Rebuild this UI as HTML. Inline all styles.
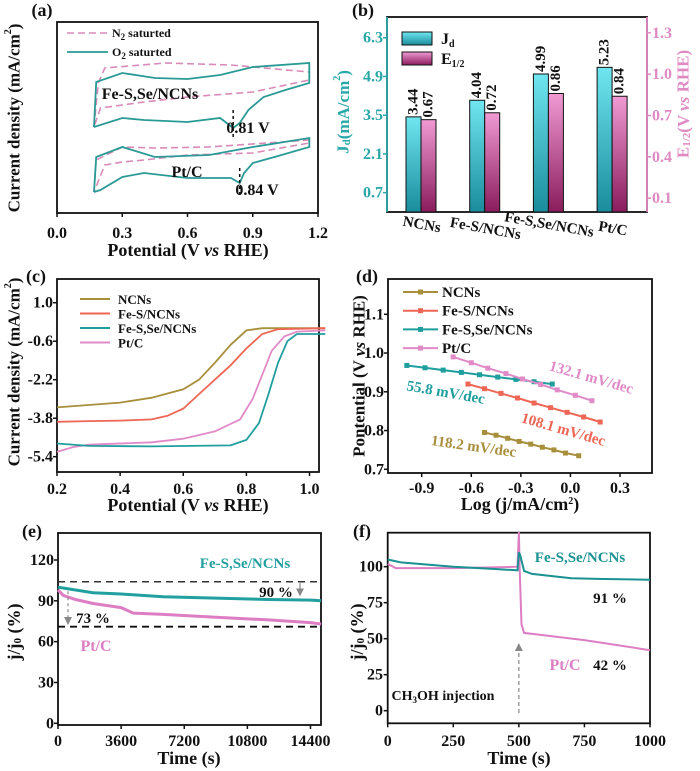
<!DOCTYPE html>
<html><head><meta charset="utf-8">
<style>
html,body{margin:0;padding:0;background:#fff;}
svg{display:block;font-family:"Liberation Serif",serif;font-weight:bold;}
</style></head>
<body>
<svg id="fig" width="700" height="771" viewBox="0 0 700 771" xmlns="http://www.w3.org/2000/svg">
<defs>
<linearGradient id="gCyan" x1="0" y1="0" x2="0" y2="1"><stop offset="0" stop-color="#6fe6f0"/><stop offset="1" stop-color="#1a8c9c"/></linearGradient>
<linearGradient id="gPink" x1="0" y1="0" x2="0" y2="1"><stop offset="0" stop-color="#f09ad4"/><stop offset="1" stop-color="#8a1c5c"/></linearGradient>
<marker id="arrG" markerWidth="8" markerHeight="8" refX="7" refY="4" orient="auto" markerUnits="userSpaceOnUse"><path d="M0,0 L8,4 L0,8 Z" fill="#888"/></marker>
</defs>
</svg>
<script>
// ---------- Panel (a) CV data ----------
const aFeO2X=[0.17,0.18,0.3,0.45,0.6,0.75,0.9,1.16,1.16,1.05,0.95,0.88,0.84,0.81,0.75,0.6,0.4,0.3,0.17];
const aFeO2Y=[86,131,140,135,134,138,146,150,130,123,116,103,90,85,95,91,93,95,86];
const aFeN2X=[0.17,0.19,0.22,0.5,0.8,1.16,1.16,0.9,0.6,0.4,0.2,0.17];
const aFeN2Y=[86,130,145,150,148,141,133,121,116,111,105,86];
const aPtO2X=[0.17,0.18,0.3,0.45,0.7,0.9,1.16,1.16,1.0,0.9,0.86,0.84,0.8,0.6,0.4,0.3,0.2,0.17];
const aPtO2Y=[21,56,66,56,58,66,75,66,56,50,40,30,35,35,40,36,23,21];
const aPtN2X=[0.17,0.18,0.3,0.45,0.7,1.16,1.16,0.9,0.6,0.4,0.3,0.22,0.17];
const aPtN2Y=[21,53,66,65,66,73,70,60,58,53,51,48,21];
const aXTicks=[0.0,0.3,0.6,0.9,1.2];
const aXTickLabels=["0.0","0.3","0.6","0.9","1.2"];
// ---------- Panel (b) bars ----------
const bCats=["NCNs","Fe-S/NCNs","Fe-S,Se/NCNs","Pt/C"];
const bJd=[3.44,4.04,4.99,5.23];
const bE12=[0.67,0.72,0.86,0.84];
const bLeftTicks=[0.7,2.1,3.5,4.9,6.3];
const bRightTicks=[0.1,0.4,0.7,1.0,1.3];
// ---------- Panel (c) LSV ----------
const cNcnsX=[0.2,0.3,0.4,0.5,0.6,0.65,0.7,0.75,0.8,0.85,1.05];
const cNcnsY=[-3.35,-3.25,-3.15,-2.95,-2.6,-2.2,-1.5,-0.75,-0.15,-0.06,-0.06];
const cFeSX=[0.2,0.3,0.4,0.5,0.55,0.6,0.65,0.7,0.75,0.8,0.85,0.9,1.05];
const cFeSY=[-3.95,-3.92,-3.9,-3.85,-3.7,-3.4,-2.8,-2.2,-1.6,-0.9,-0.3,-0.1,-0.06];
const cFeSSeX=[0.2,0.3,0.5,0.75,0.8,0.84,0.87,0.9,0.93,0.96,1.05];
const cFeSSeY=[-4.85,-4.95,-4.97,-4.93,-4.7,-4.0,-2.8,-1.5,-0.6,-0.3,-0.3];
const cPtX=[0.2,0.25,0.3,0.5,0.6,0.7,0.78,0.82,0.85,0.88,0.92,0.96,1.05];
const cPtY=[-5.2,-5.0,-4.9,-4.8,-4.65,-4.35,-3.85,-3.0,-2.0,-1.0,-0.4,-0.2,-0.15];
const cXTicks=[0.2,0.4,0.6,0.8,1.0];
const cYTicks=[1.0,-0.6,-2.2,-3.8,-5.4];
// ---------- Panel (d) Tafel ----------
const dNcnsX=[-0.52,-0.45,-0.38,-0.31,-0.24,-0.17,-0.1,-0.03,0.05];
const dNcnsY=[0.795,0.788,0.780,0.772,0.765,0.757,0.750,0.742,0.735];
const dFeSX=[-0.62,-0.52,-0.42,-0.32,-0.22,-0.12,-0.02,0.08,0.18];
const dFeSY=[0.920,0.908,0.896,0.884,0.871,0.859,0.847,0.835,0.822];
const dFeSSeX=[-0.99,-0.88,-0.77,-0.66,-0.55,-0.44,-0.33,-0.22,-0.11];
const dFeSSeY=[0.968,0.962,0.956,0.950,0.944,0.938,0.932,0.926,0.920];
const dPtX=[-0.71,-0.60,-0.50,-0.39,-0.29,-0.18,-0.08,0.03,0.13];
const dPtY=[0.990,0.975,0.961,0.947,0.933,0.919,0.905,0.891,0.877];
const dXTicks=[-0.9,-0.6,-0.3,0.0,0.3];
const dYTicks=[0.7,0.8,0.9,1.0,1.1];
// ---------- Panel (e) stability ----------
const eFeX=[0,500,2000,3600,6000,9000,12000,14400,15000];
const eFeY=[100,99,96,95,93,92,91,90.5,90];
const ePtX=[0,300,1000,2000,3600,4300,6000,9000,12000,14400,15000];
const ePtY=[98,94,91,88,85,81,80,78,76,74,73];
const eXTicks=[0,3600,7200,10800,14400];
const eYTicks=[0,30,60,90,120];
// ---------- Panel (f) methanol ----------
const fFeX=[0,50,250,400,495,500,505,520,550,700,800,1000];
const fFeY=[105,103,100,98.5,97.5,110,108,97,95,92,91.5,91];
const fPtX=[0,30,250,400,495,500,503,510,520,750,1000];
const fPtY=[102,99,99,99.5,100,124,100,60,54,49,42];
const fXTicks=[0,250,500,750,1000];
const fYTicks=[0,25,50,75,100];

const NS="http://www.w3.org/2000/svg";
const svg=document.getElementById('fig');
function lin(d0,d1,r0,r1){return v=>r0+(v-d0)*(r1-r0)/(d1-d0);}
function mk(tag,attrs,parent){const e=document.createElementNS(NS,tag);for(const k in attrs)e.setAttribute(k,attrs[k]);(parent||svg).appendChild(e);return e;}
function txt(s,x,y,size,fill,anchor,parent){const e=mk('text',{x:x,y:y,'font-size':size,fill:fill||'#111','text-anchor':anchor||'middle'},parent);e.textContent=s;return e;}
function pathFrom(xs,ys,sx,sy){return xs.map((v,i)=>(i?'L':'M')+sx(v).toFixed(1)+','+sy(ys[i]).toFixed(1)).join(' ');}
function box(x0,y0,x1,y1,name){const r=mk('rect',{x:x0,y:y0,width:x1-x0,height:y1-y0,fill:'none',stroke:'#111','stroke-width':1.8});


return r;}
function xTicks(vals,labels,sx,yb,ly,name){vals.forEach((v,i)=>{mk('line',{x1:sx(v),x2:sx(v),y1:yb,y2:yb+4,stroke:'#111','stroke-width':1.5});
const t=txt(labels[i],sx(v),ly,16);

});}
function yTicks(vals,labels,sy,xl,lx,name,col,anchor,dir){vals.forEach((v,i)=>{mk('line',{x1:xl,x2:xl+(dir||-4),y1:sy(v),y2:sy(v),stroke:col||'#111','stroke-width':1.5});
const t=txt(labels[i],lx,sy(v)+5,16,col||'#111',anchor||'end');

});}
function rotTitle(s,x,y,size,col,name){const t=mk('text',{x:x,y:y,'font-size':size,fill:col||'#111','text-anchor':'middle','dominant-baseline':'central',transform:`rotate(-90 ${x} ${y})`});t.innerHTML=s;

return t;}
function label(s,x,y,size,col,name,anchor,rot){const t=mk('text',{x:x,y:y,'font-size':size,fill:col||'#111','text-anchor':anchor||'middle'});if(rot)t.setAttribute('transform',`rotate(${rot} ${x} ${y})`);t.innerHTML=s;

return t;}

// ===== Panel a =====
{const sx=lin(0,1.2,57,318), sy=lin(0,191,213,22);
box(57,22,318,213,'panel-a-plot-area');
xTicks(aXTicks,aXTickLabels,sx,213,238,'panel-a-x-tick');
let p=mk('path',{d:pathFrom(aFeN2X,aFeN2Y,sx,sy),fill:'none',stroke:'#d98ab8','stroke-width':1.6,'stroke-dasharray':'7,4'});


p=mk('path',{d:pathFrom(aPtN2X,aPtN2Y,sx,sy),fill:'none',stroke:'#d98ab8','stroke-width':1.6,'stroke-dasharray':'7,4'});


p=mk('path',{d:pathFrom(aFeO2X,aFeO2Y,sx,sy),fill:'none',stroke:'#2a9a96','stroke-width':1.8});


p=mk('path',{d:pathFrom(aPtO2X,aPtO2Y,sx,sy),fill:'none',stroke:'#2a9a96','stroke-width':1.8});


mk('line',{x1:sx(0.81),x2:sx(0.81),y1:110,y2:138,stroke:'#111','stroke-width':1.5,'stroke-dasharray':'3,3'});
mk('line',{x1:sx(0.84),x2:sx(0.84),y1:168,y2:197,stroke:'#111','stroke-width':1.5,'stroke-dasharray':'3,3'});
label('0.81 V',248,133,16,'#111','peak-label-081');
label('0.84 V',257,195,16,'#111','peak-label-084');
label('Fe-S,Se/NCNs',150,99,16,'#111','fe-s-se-label');
label('Pt/C',187,177,16,'#111','pt-c-label');
mk('line',{x1:67,x2:108,y1:33,y2:33,stroke:'#d98ab8','stroke-width':1.6,'stroke-dasharray':'7,4'});
label('N<tspan font-size="9" dy="3">2</tspan><tspan dy="-3"> saturted</tspan>',112,37,12,'#111','legend-n2','start');
mk('line',{x1:67,x2:108,y1:52,y2:52,stroke:'#2a9a96','stroke-width':1.8});
label('O<tspan font-size="9" dy="3">2</tspan><tspan dy="-3"> saturted</tspan>',112,56,12,'#111','legend-o2','start');
label('(a)',42,16,18,'#111','panel-a-label');
label('Potential (V <tspan font-style="italic">vs</tspan> RHE)',188,256,18,'#111','panel-a-x-title');
rotTitle('Current density (mA/cm<tspan font-size="10" dy="-6">2</tspan><tspan dy="6">)</tspan>',14,118,17,'#111','panel-a-y-title');
}
// ===== Panel b =====
{const syL=lin(0,7.05,212,17), syR=lin(0,1.415,212,17);
const centers=bCats.map((c,i)=>421+i*63.7);
mk('rect',{x:387,y:17,width:260,height:195,fill:'none',stroke:'#111','stroke-width':1.8});
mk('line',{x1:387,x2:387,y1:17,y2:212,stroke:'#2aa7a8','stroke-width':1.8});
mk('line',{x1:647,x2:647,y1:17,y2:212,stroke:'#e08ac4','stroke-width':1.8});
yTicks(bLeftTicks,bLeftTicks.map(v=>v.toFixed(1)),syL,387,383,'left-y-tick','#2aa7a8','end',-4);
yTicks(bRightTicks,bRightTicks.map(v=>v.toFixed(1)),syR,647,652,'right-y-tick','#e08ac4','start',4);
bCats.forEach((c,i)=>{
 const cx=centers[i];
 const r1=mk('rect',{x:cx-15,y:syL(bJd[i]),width:15,height:212-syL(bJd[i]),fill:'url(#gCyan)',stroke:'#111','stroke-width':1});
 
 
 const r2=mk('rect',{x:cx,y:syR(bE12[i]),width:15,height:212-syR(bE12[i]),fill:'url(#gPink)',stroke:'#111','stroke-width':1});
 
 
 const x1=cx-7.5, y1=syL(bJd[i])-2;
 const t1=mk('text',{x:x1,y:y1,'font-size':15,fill:'#111','text-anchor':'start','dominant-baseline':'central',transform:`rotate(-90 ${x1} ${y1})`});t1.textContent=bJd[i].toFixed(2);
 
 
 const x2=cx+7.5, y2=syR(bE12[i])-2;
 const t2=mk('text',{x:x2,y:y2,'font-size':15,fill:'#111','text-anchor':'start','dominant-baseline':'central',transform:`rotate(-90 ${x2} ${y2})`});t2.textContent=bE12[i].toFixed(2);
 
 
 const ly=229+(i%2)*4;
 const cl=mk('text',{x:cx,y:ly,'font-size':15,fill:'#111','text-anchor':'middle',transform:`rotate(10 ${cx} ${ly})`});cl.textContent=c;
 
 
});
let lg=mk('rect',{x:402,y:32,width:30,height:13,fill:'url(#gCyan)',stroke:'#111','stroke-width':1});


label('J<tspan font-size="10" dy="3">d</tspan>',441,44,16,'#111','legend-jd','start');
lg=mk('rect',{x:402,y:52,width:30,height:13,fill:'url(#gPink)',stroke:'#111','stroke-width':1});


label('E<tspan font-size="10" dy="3">1/2</tspan>',441,64,16,'#111','legend-e12','start');
label('(b)',363,16,18,'#111','panel-b-label');
rotTitle('J<tspan font-size="11" dy="4">d</tspan><tspan dy="-4">(mA/cm</tspan><tspan font-size="10" dy="-6">2</tspan><tspan dy="6">)</tspan>',343,112,17,'#2aa7a8','panel-b-left-y-title');
rotTitle('E<tspan font-size="11" dy="4">1/2</tspan><tspan dy="-4">(V </tspan><tspan font-style="italic">vs</tspan> RHE)',683,104,17,'#e08ac4','panel-b-right-y-title');
}
// ===== Panel c =====
{const sx=lin(0.2,1.03,57,319), sy=lin(1.0,-5.4,302.7,456.7);
box(57,279,319,472,'panel-c-plot-area');
xTicks(cXTicks,cXTicks.map(v=>v.toFixed(1)),sx,472,494,'panel-c-x-tick');
yTicks(cYTicks,cYTicks.map(v=>v.toFixed(1)),sy,57,53,'panel-c-y-tick');
const series=[[cNcnsX,cNcnsY,'#a88f3c','lsv-ncns'],[cFeSX,cFeSY,'#ee6655','lsv-fe-s'],[cPtX,cPtY,'#e08ac8','lsv-pt-c'],[cFeSSeX,cFeSSeY,'#1f9e9e','lsv-fe-s-se']];
series.forEach(s=>{const p=mk('path',{d:pathFrom(s[0],s[1],sx,sy),fill:'none',stroke:s[2],'stroke-width':1.8});

});
const leg=[['NCNs','#a88f3c'],['Fe-S/NCNs','#ee6655'],['Fe-S,Se/NCNs','#1f9e9e'],['Pt/C','#e08ac8']];
leg.forEach((l,i)=>{const y=299+i*14.5;mk('line',{x1:80,x2:110,y1:y,y2:y,stroke:l[1],'stroke-width':2});
label(l[0],118,y+5,13,'#111','panel-c-legend-entry','start');});
label('(c)',36,282,18,'#111','panel-c-label');
label('Potential (V <tspan font-style="italic">vs</tspan> RHE)',188,511,18,'#111','panel-c-x-title');
rotTitle('Current density (mA/cm<tspan font-size="10" dy="-6">2</tspan><tspan dy="6">)</tspan>',14,372,17,'#111','panel-c-y-title');
}
// ===== Panel d =====
{const sx=lin(-0.9,0.3,421.7,620), sy=lin(0.7,1.1,469.3,314.3);
box(388,279,652,473,'panel-d-plot-area');
xTicks(dXTicks,dXTicks.map(v=>v.toFixed(1)),sx,473,493,'panel-d-x-tick');
yTicks(dYTicks,dYTicks.map(v=>v.toFixed(1)),sy,388,384,'panel-d-y-tick');
const series=[[dNcnsX,dNcnsY,'#a88f3c','tafel-ncns'],[dFeSX,dFeSY,'#ee6655','tafel-fe-s'],[dFeSSeX,dFeSSeY,'#1f9e9e','tafel-fe-s-se'],[dPtX,dPtY,'#e08ac8','tafel-pt-c']];
series.forEach(s=>{const p=mk('path',{d:pathFrom(s[0],s[1],sx,sy),fill:'none',stroke:s[2],'stroke-width':2});


s[0].forEach((v,i)=>{const m=mk('rect',{x:sx(v)-2.5,y:sy(s[1][i])-2.5,width:5,height:5,fill:s[2]});

});});
const leg=[['NCNs','#a88f3c'],['Fe-S/NCNs','#ee6655'],['Fe-S,Se/NCNs','#1f9e9e'],['Pt/C','#e08ac8']];
leg.forEach((l,i)=>{const y=292+i*18.7;mk('line',{x1:403,x2:438,y1:y,y2:y,stroke:l[1],'stroke-width':2});
mk('rect',{x:418,y:y-2.5,width:5,height:5,fill:l[1]});
label(l[0],442,y+5,15,'#111','panel-d-legend-entry','start');});
label('132.1 mV/dec',590,382,15,'#e08ac8','slope-label-pt-c','middle',16);
label('55.8 mV/dec',445,397,15,'#1f9e9e','slope-label-fe-s-se','middle',10);
label('108.1 mV/dec',562,434,15,'#ee6655','slope-label-fe-s','middle',16);
label('118.2 mV/dec',473,451,15,'#a88f3c','slope-label-ncns','middle',8);
label('(d)',367,282,18,'#111','panel-d-label');
label('Log (j/mA/cm<tspan font-size="10" dy="-6">2</tspan><tspan dy="6">)</tspan>',520,510,18,'#111','panel-d-x-title');
rotTitle('Pontential (V <tspan font-style="italic">vs</tspan> RHE)',359,376,17,'#111','panel-d-y-title');
}
// ===== Panel e =====
{const sx=lin(0,15000,58,321), sy=lin(0,120,723.3,560);
box(58,533,321,725,'panel-e-plot-area');
xTicks(eXTicks,eXTicks.map(String),sx,725,746,'panel-e-x-tick');
yTicks(eYTicks,eYTicks.map(String),sy,58,54,'panel-e-y-tick');
mk('line',{x1:58,x2:321,y1:sy(104),y2:sy(104),stroke:'#333','stroke-width':1.5,'stroke-dasharray':'7,5'});
mk('line',{x1:58,x2:321,y1:sy(71),y2:sy(71),stroke:'#111','stroke-width':1.8,'stroke-dasharray':'7,5'});
let p=mk('path',{d:pathFrom(ePtX,ePtY,sx,sy),fill:'none',stroke:'#dd7ec4','stroke-width':3});


p=mk('path',{d:pathFrom(eFeX,eFeY,sx,sy),fill:'none',stroke:'#22a0a0','stroke-width':3});


mk('line',{x1:68,x2:68,y1:sy(97),y2:sy(73),stroke:'#888','stroke-width':1.2,'stroke-dasharray':'3,3','marker-end':'url(#arrG)'});
mk('line',{x1:300,x2:300,y1:sy(103),y2:sy(94),stroke:'#888','stroke-width':1.2,'marker-end':'url(#arrG)'});
label('Fe-S,Se/NCNs',245,568,15,'#22a0a0','panel-e-fe-s-se-label');
label('90 %',276,597,15,'#111','retention-90');
label('73 %',93,623,15,'#111','retention-73');
label('Pt/C',96,651,16,'#dd7ec4','panel-e-pt-c-label');
label('(e)',32,537,18,'#111','panel-e-label');
label('Time (s)',189,764,18,'#111','panel-e-x-title');
rotTitle('j/j<tspan font-size="11" dy="4">0</tspan><tspan dy="-4"> (%)</tspan>',14,632,18,'#111','panel-e-y-title');
}
// ===== Panel f =====
{const sx=lin(0,1000,387.7,650), sy=lin(0,100,710.7,566.7);
box(387.7,532.7,650,723.3,'panel-f-plot-area');
xTicks(fXTicks,fXTicks.map(String),sx,723.3,746,'panel-f-x-tick');
yTicks(fYTicks,fYTicks.map(String),sy,387.7,383,'panel-f-y-tick');
let p=mk('path',{d:pathFrom(fPtX,fPtY,sx,sy),fill:'none',stroke:'#dd7ec4','stroke-width':2});


p=mk('path',{d:pathFrom(fFeX,fFeY,sx,sy),fill:'none',stroke:'#1a9292','stroke-width':2});


mk('line',{x1:sx(500),x2:sx(500),y1:713,y2:644,stroke:'#888','stroke-width':1.2,'stroke-dasharray':'4,3','marker-end':'url(#arrG)'});
label('Fe-S,Se/NCNs',580,562,15,'#1a9292','panel-f-fe-s-se-label');
label('91 %',610,603,15,'#111','retention-91');
label('Pt/C',565,670,16,'#dd7ec4','panel-f-pt-c-label');
label('42 %',610,670,15,'#111','retention-42');
label('CH<tspan font-size="9" dy="3">3</tspan><tspan dy="-3">OH injection</tspan>',443,700,14,'#111','injection-label');
label('(f)',362,537,18,'#111','panel-f-label');
label('Time (s)',519,764,18,'#111','panel-f-x-title');
rotTitle('j/j<tspan font-size="11" dy="4">0</tspan><tspan dy="-4"> (%)</tspan>',357,632,18,'#111','panel-f-y-title');
}
</script>
</body></html>
